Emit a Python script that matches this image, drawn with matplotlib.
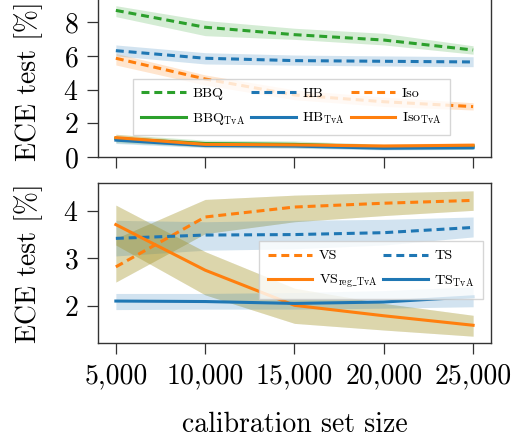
import matplotlib
matplotlib.use("Agg")
import matplotlib.pyplot as plt
from matplotlib.ticker import FuncFormatter

plt.rcParams.update({
    "font.family": "serif",
    "font.serif": ["cmr10"],
    "mathtext.fontset": "cm",
    "axes.formatter.use_mathtext": True,
    "axes.unicode_minus": False,
})

sizes = [5000, 10000, 15000, 20000, 25000]

# Top panel
bbq = [8.70, 7.70, 7.26, 6.94, 6.35]
bbq_lo = [8.33, 7.20, 6.98, 6.65, 6.10]
bbq_hi = [8.98, 8.10, 7.64, 7.34, 6.60]
hb = [6.31, 5.86, 5.72, 5.68, 5.64]
hb_lo = [6.00, 5.52, 5.45, 5.40, 5.36]
hb_hi = [6.65, 6.19, 6.05, 6.00, 5.95]
iso = [5.86, 4.63, 3.68, 3.28, 2.99]
iso_lo = [5.46, 4.27, 3.40, 3.00, 2.79]
iso_hi = [6.15, 4.87, 3.98, 3.55, 3.22]
bbq_tva = [1.10, 0.80, 0.75, 0.60, 0.65]
bbq_tva_lo = [0.85, 0.60, 0.55, 0.45, 0.45]
bbq_tva_hi = [1.35, 1.00, 0.95, 0.75, 0.80]
hb_tva = [1.00, 0.68, 0.65, 0.52, 0.55]
hb_tva_lo = [0.80, 0.55, 0.52, 0.42, 0.45]
hb_tva_hi = [1.20, 0.82, 0.78, 0.65, 0.66]
iso_tva = [1.15, 0.75, 0.72, 0.65, 0.70]
iso_tva_lo = [0.95, 0.60, 0.58, 0.52, 0.56]
iso_tva_hi = [1.35, 0.90, 0.86, 0.78, 0.84]

# Bottom panel
vs = [2.82, 3.87, 4.08, 4.16, 4.22]
vs_lo = [2.50, 3.52, 3.77, 3.90, 4.01]
vs_hi = [3.42, 4.24, 4.33, 4.38, 4.42]
ts = [3.42, 3.49, 3.50, 3.54, 3.65]
ts_lo = [3.05, 3.17, 3.20, 3.28, 3.45]
ts_hi = [3.80, 3.77, 3.80, 3.82, 3.87]
vs_reg_tva = [3.71, 2.75, 2.01, 1.79, 1.59]
vs_reg_tva_lo = [3.28, 2.23, 1.63, 1.49, 1.36]
vs_reg_tva_hi = [4.12, 3.14, 2.37, 2.05, 1.80]
ts_tva = [2.10, 2.09, 2.05, 2.08, 2.19]
ts_tva_lo = [1.92, 1.93, 1.93, 1.95, 1.98]
ts_tva_hi = [2.26, 2.26, 2.28, 2.32, 2.40]

GREEN = "#2ca02c"
BLUE = "#1f77b4"
ORANGE = "#ff7f0e"
DASH = (2.6, 1.6)
LW = 2.2
FS = 20
LFS = 10.2

fig = plt.figure(figsize=(5.24, 4.41), dpi=100)
ax1 = fig.add_axes([0.187, 0.644, 0.750, 0.363])
ax2 = fig.add_axes([0.187, 0.2215, 0.750, 0.3629])

def band(ax, lo, hi, c, a=0.2):
    ax.fill_between(sizes, lo, hi, color=c, alpha=a, lw=0)

band(ax1, bbq_lo, bbq_hi, GREEN)
band(ax1, hb_lo, hb_hi, BLUE)
band(ax1, iso_lo, iso_hi, ORANGE)
band(ax1, bbq_tva_lo, bbq_tva_hi, GREEN)
band(ax1, hb_tva_lo, hb_tva_hi, BLUE)
band(ax1, iso_tva_lo, iso_tva_hi, ORANGE)
l_bbq, = ax1.plot(sizes, bbq, color=GREEN, lw=LW, dashes=DASH, label="BBQ")
l_hb, = ax1.plot(sizes, hb, color=BLUE, lw=LW, dashes=DASH, label="HB")
l_iso, = ax1.plot(sizes, iso, color=ORANGE, lw=LW, dashes=DASH, label="Iso")
l_bbqt, = ax1.plot(sizes, bbq_tva, color=GREEN, lw=LW, label=r"BBQ$_{\mathrm{TvA}}$")
l_hbt, = ax1.plot(sizes, hb_tva, color=BLUE, lw=LW, label=r"HB$_{\mathrm{TvA}}$")
l_isot, = ax1.plot(sizes, iso_tva, color=ORANGE, lw=LW, label=r"Iso$_{\mathrm{TvA}}$")

band(ax2, vs_lo, vs_hi, GREEN, 0.2)
band(ax2, vs_lo, vs_hi, ORANGE, 0.2)
band(ax2, ts_lo, ts_hi, BLUE)
band(ax2, vs_reg_tva_lo, vs_reg_tva_hi, GREEN, 0.2)
band(ax2, vs_reg_tva_lo, vs_reg_tva_hi, ORANGE, 0.2)
band(ax2, ts_tva_lo, ts_tva_hi, BLUE)
l_vs, = ax2.plot(sizes, vs, color=ORANGE, lw=LW, dashes=DASH, label="VS")
l_ts, = ax2.plot(sizes, ts, color=BLUE, lw=LW, dashes=DASH, label="TS")
l_vst, = ax2.plot(sizes, vs_reg_tva, color=ORANGE, lw=LW, label=r"VS$_{\mathrm{reg\_TvA}}$")
l_tst, = ax2.plot(sizes, ts_tva, color=BLUE, lw=LW, label=r"TS$_{\mathrm{TvA}}$")

for ax in (ax1, ax2):
    ax.set_xlim(4000, 26000)
    ax.set_xticks(sizes)
    ax.tick_params(labelsize=FS, length=8, width=0.9, color="#333333", pad=6)
    for s in ax.spines.values():
        s.set_color("#333333")
        s.set_linewidth(1.0)
    ax.set_ylabel("ECE test [%]", fontsize=FS)

ax1.set_ylim(0, 9.5)
ax1.set_yticks([0, 2, 4, 6, 8])
ax1.tick_params(labelbottom=False)
ax2.set_ylim(1.21, 4.58)
ax2.set_yticks([2, 3, 4])
ax2.xaxis.set_major_formatter(FuncFormatter(lambda v, p: f"{int(v):,}"))
ax2.set_xlabel("calibration set size", fontsize=FS, labelpad=16)

ax1.yaxis.set_label_coords(-0.14, 0.475)
ax2.yaxis.set_label_coords(-0.14, 0.5)

HL = 3.15
ax1.legend([l_bbq, l_bbqt, l_hb, l_hbt, l_iso, l_isot],
           [h.get_label() for h in [l_bbq, l_bbqt, l_hb, l_hbt, l_iso, l_isot]],
           ncol=3, fontsize=LFS, loc="upper left", bbox_to_anchor=(0.089, 0.4875),
           borderaxespad=0, handlelength=HL, handletextpad=0.45, columnspacing=0.4,
           fancybox=False, edgecolor="#cccccc", borderpad=0.6, labelspacing=0.75)
ax2.legend([l_vs, l_vst, l_ts, l_tst],
           [h.get_label() for h in [l_vs, l_vst, l_ts, l_tst]],
           ncol=2, fontsize=LFS, loc="upper left", bbox_to_anchor=(0.41, 0.639),
           borderaxespad=0, handlelength=HL, handletextpad=0.45, columnspacing=0.4,
           fancybox=False, edgecolor="#cccccc", borderpad=0.6, labelspacing=0.75)

fig.savefig("out.png", dpi=100)
